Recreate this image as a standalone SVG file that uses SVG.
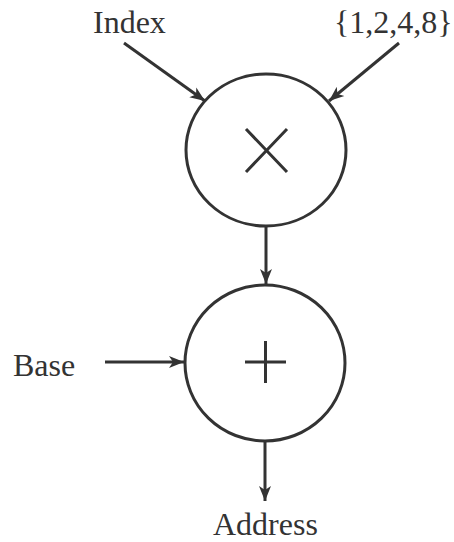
<svg xmlns="http://www.w3.org/2000/svg" width="454" height="542" viewBox="0 0 454 542">
<style>
.lbl{font-family:"Liberation Serif","Times New Roman",serif;font-size:32px;fill:#333}
.node{fill:none;stroke:#333;stroke-width:3}
.edge{fill:none;stroke:#333;stroke-width:3}
</style>
<defs>
<marker id="arr" markerUnits="userSpaceOnUse" markerWidth="16" markerHeight="14" viewBox="0 0 16 14" refX="15" refY="7" orient="auto">
<path d="M0,1 L15,7 L0,13 L4,7 z" fill="#333"/>
</marker>
</defs>
<rect width="454" height="542" fill="#fff"/>
<g id="connectors">
<line class="edge" x1="124" y1="43" x2="205" y2="101" marker-end="url(#arr)"/>
<line class="edge" x1="399" y1="43" x2="329" y2="101" marker-end="url(#arr)"/>
<line class="edge" x1="266" y1="226" x2="266" y2="284" marker-end="url(#arr)"/>
<line class="edge" x1="105" y1="362" x2="184" y2="362" marker-end="url(#arr)"/>
<line class="edge" x1="265" y1="441" x2="265" y2="501" marker-end="url(#arr)"/>
</g>
<g id="index"><text class="lbl" x="93" y="33">Index</text></g>
<g id="scale"><text class="lbl" x="334" y="33">{1,2,4,8}</text></g>
<g id="mul">
<ellipse class="node" cx="266" cy="150" rx="80" ry="76"/>
<path class="edge" d="M246,129 L287,172 M287,129 L246,172" stroke-width="2.5"/>
</g>
<g id="add">
<ellipse class="node" cx="265" cy="363" rx="80" ry="78"/>
<path class="edge" d="M245,362 L286,362 M265.5,341 L265.5,383" stroke-width="2.5"/>
</g>
<g id="base"><text class="lbl" x="13" y="376">Base</text></g>
<g id="address"><text class="lbl" x="213" y="535">Address</text></g>
</svg>
